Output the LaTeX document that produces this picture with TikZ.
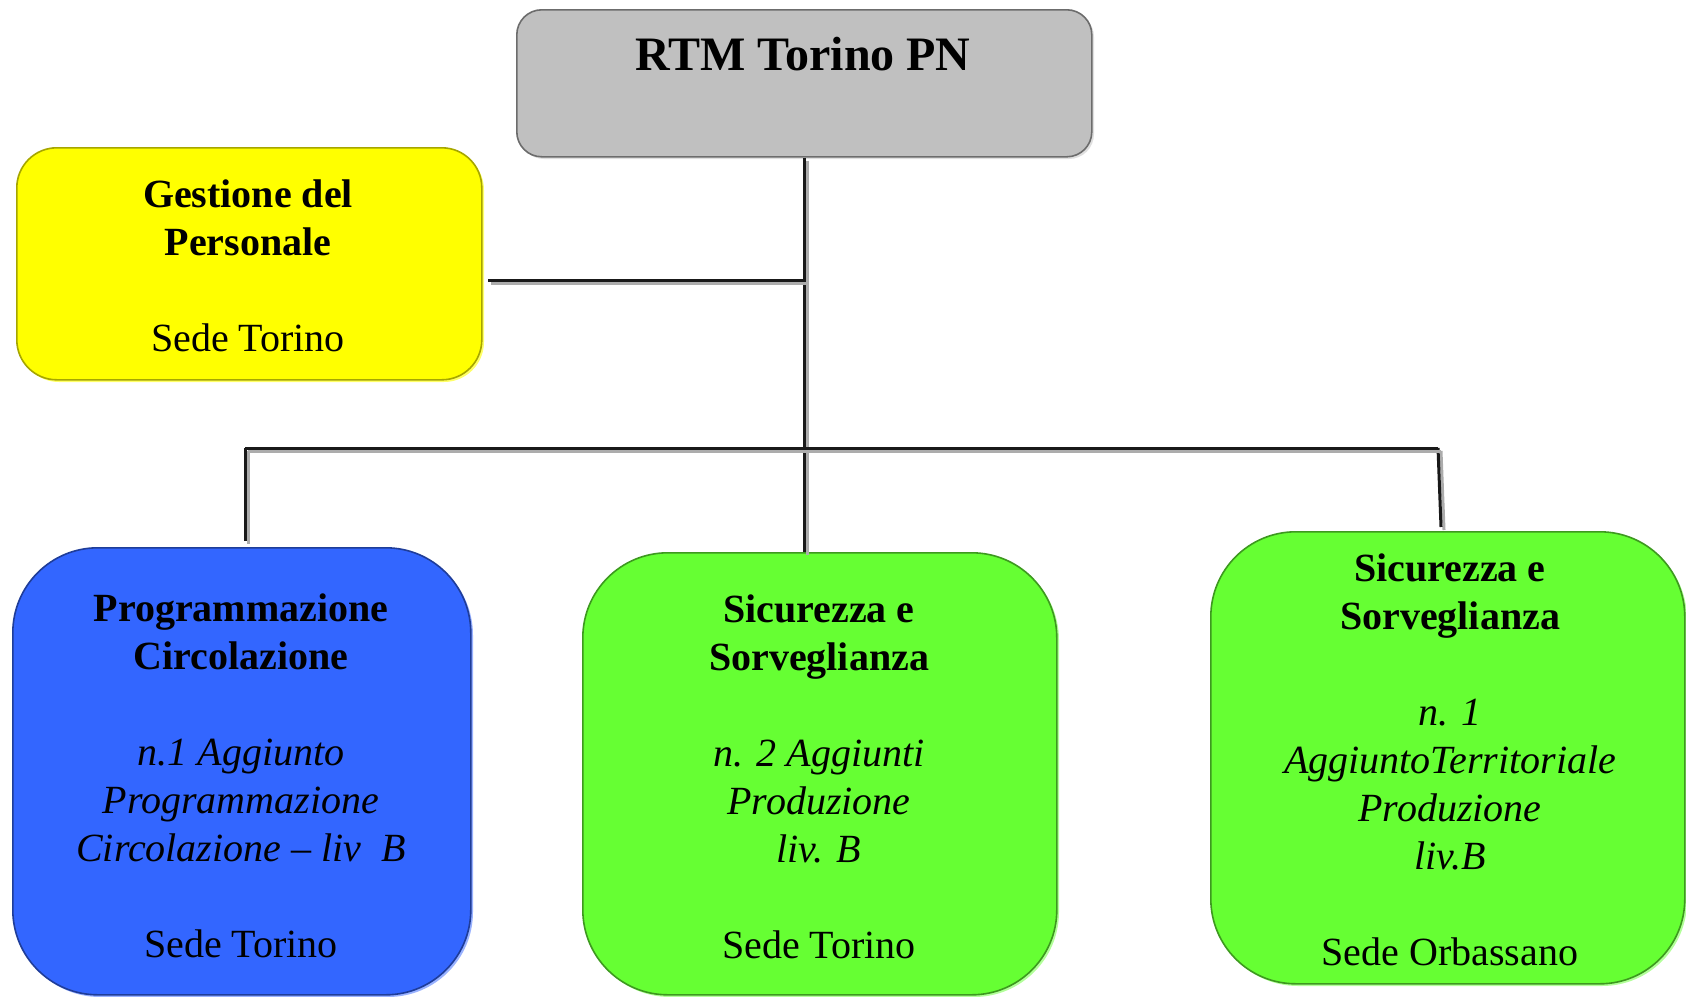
\documentclass[tikz,border=0pt]{standalone}
\usepackage{fontspec}
\setmainfont{Liberation Serif}
\begin{document}
\begin{tikzpicture}[x=1pt,y=-1pt,
  boxbase/.style={anchor=north west, inner sep=0pt, line width=1.6pt},
  txt/.style={align=center, inner sep=0pt, font=\fontsize{40}{48}\selectfont},
  conn/.style={line width=3pt, draw=black!90,
     preaction={draw=gray!65, line width=3pt, transform canvas={shift={(3pt,-3pt)}}}}
]
\definecolor{topgray}{HTML}{C0C0C0}
\definecolor{ylw}{HTML}{FFFF00}
\definecolor{blu}{HTML}{3366FF}
\definecolor{grn}{HTML}{66FF33}
\useasboundingbox (0,0) rectangle (1686,996);
\clip (0,0) rectangle (1686,996);

% soft light halos (bottom-right)
\fill[gray!25, rounded corners=25pt] (519,12) rectangle ++(575,147);
\fill[ylw!60, rounded corners=40pt] (19,150) rectangle ++(465,232);
\fill[blu!50, rounded corners=85pt] (15,550) rectangle ++(458,447);
\fill[grn!50, rounded corners=85pt] (585,555) rectangle ++(474,442);
\fill[grn!50, rounded corners=85pt] (1213,534) rectangle ++(474,452);

% boxes
\node[boxbase, rounded corners=25pt, fill=topgray, draw=gray!85!black, minimum width=575pt, minimum height=147pt] (top) at (516,9) {};
\node[boxbase, rounded corners=40pt, fill=ylw, draw=ylw!65!black, minimum width=465pt, minimum height=232pt] (yel) at (16,147) {};
\node[boxbase, rounded corners=85pt, fill=blu, draw=blu!60!black, minimum width=458pt, minimum height=447pt] (blue) at (12,547) {};
\node[boxbase, rounded corners=85pt, fill=grn, draw=grn!60!black, minimum width=474pt, minimum height=442pt] (mid) at (582,552) {};
\node[boxbase, rounded corners=85pt, fill=grn, draw=grn!60!black, minimum width=474pt, minimum height=452pt] (right) at (1210,531) {};

% texts
\node[txt, font=\fontsize{48}{56}\selectfont\bfseries] (ttop) at (803,54) {RTM Torino PN};
\node[txt] (tyel) at (248,265.5) {\textbf{Gestione del}\\\textbf{Personale}\\[48pt]Sede Torino};
\node[txt] (tblue) at (241,775.5) {\textbf{Programmazione}\\\textbf{Circolazione}\\[48pt]\textit{n.1 Aggiunto}\\\textit{Programmazione}\\\textit{Circolazione -- liv\ \ B}\\[48pt]Sede Torino};
\node[txt] (tmid) at (819,776.5) {\textbf{Sicurezza e}\\\textbf{Sorveglianza}\\[48pt]\textit{n. 2 Aggiunti}\\\textit{Produzione}\\\textit{liv. B}\\[48pt]Sede Torino};
\node[txt] (tright) at (1450,759.5) {\textbf{Sicurezza e}\\\textbf{Sorveglianza}\\[48pt]\textit{n. 1}\\\textit{AggiuntoTerritoriale}\\\textit{Produzione}\\\textit{liv.B}\\[48pt]Sede Orbassano};

% connectors
\coordinate (bus) at (804,448);
\coordinate (busL) at (245,448);
\coordinate (busR) at (1438,448);
\coordinate (yj) at (804,280);
\draw[conn] (top.south -| bus) -- (mid.north -| bus);
\draw[conn] (yj) -- ([xshift=5pt]yel.east |- yj);
\draw[conn] (busL) -- (busL |- 0,541);
\draw[conn] (busR) -- (1441,527);
\draw[conn] (busL) -- (busR);
\end{tikzpicture}
\end{document}
